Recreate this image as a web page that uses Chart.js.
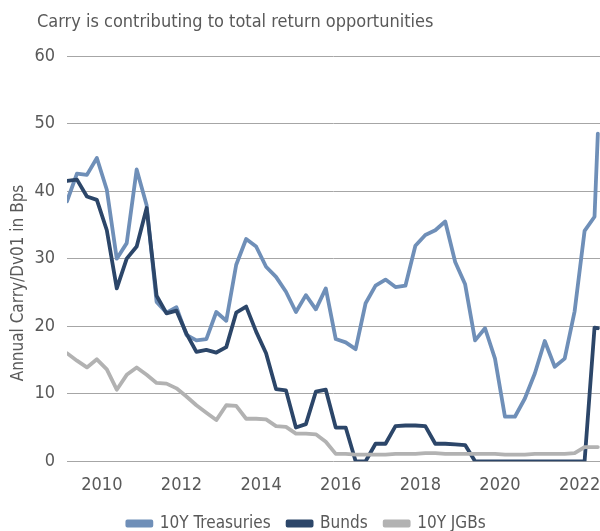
<!DOCTYPE html>
<html lang="en">
<head>
  <meta charset="UTF-8">
  <title>Carry is contributing to total return opportunities</title>
  <script src="https://cdn.jsdelivr.net/npm/chart.js"></script>
  <style>
    body { margin: 0; background: #fff; }
    #wrap { width: 600px; height: 531px; position: relative; }
  </style>
</head>
<body>
<div id="wrap"><canvas id="carryChart"></canvas></div>

<script>
  // observation months (quarter ends, last one is the latest reading)
  const dates = [
    '2009-03','2009-06','2009-09','2009-12',
    '2010-03','2010-06','2010-09','2010-12',
    '2011-03','2011-06','2011-09','2011-12',
    '2012-03','2012-06','2012-09','2012-12',
    '2013-03','2013-06','2013-09','2013-12',
    '2014-03','2014-06','2014-09','2014-12',
    '2015-03','2015-06','2015-09','2015-12',
    '2016-03','2016-06','2016-09','2016-12',
    '2017-03','2017-06','2017-09','2017-12',
    '2018-03','2018-06','2018-09','2018-12',
    '2019-03','2019-06','2019-09','2019-12',
    '2020-03','2020-06','2020-09','2020-12',
    '2021-03','2021-06','2021-09','2021-12',
    '2022-03','2022-06','2022-07'
  ];
  const treasuries = [
    38.5, 42.6, 42.4, 44.9, 40.2, 30.0, 32.3, 43.2, 37.9, 23.6,
    22.0, 22.8, 18.7, 17.9, 18.1, 22.1, 20.8, 29.1, 32.9, 31.8,
    28.8, 27.3, 25.1, 22.1, 24.6, 22.5, 25.6, 18.1, 17.6, 16.6,
    23.4, 26.0, 26.9, 25.8, 26.0, 31.9, 33.5, 34.2, 35.5, 29.5,
    26.2, 17.9, 19.7, 15.2, 6.6, 6.6, 9.3, 13.0, 17.8, 14.0,
    15.2, 22.2, 34.1, 36.2, 48.5
  ];
  const bunds = [
    41.5, 41.7, 39.2, 38.7, 34.2, 25.6, 30.0, 31.8, 37.5, 24.5,
    21.9, 22.3, 18.9, 16.2, 16.5, 16.1, 16.9, 22.0, 22.9, 19.2,
    16.0, 10.7, 10.5, 5.0, 5.5, 10.3, 10.6, 5.0, 5.0, 0.0,
    0.0, 2.6, 2.6, 5.2, 5.3, 5.3, 5.2, 2.6, 2.6, 2.5,
    2.4, 0.0, 0.0, 0.0, 0.0, 0.0, 0.0, 0.0, 0.0, 0.0,
    0.0, 0.0, 0.0, 19.8, 19.7
  ];
  const jgbs = [
    16.0, 14.9, 13.9, 15.1, 13.6, 10.6, 12.8, 13.9, 12.8, 11.6,
    11.5, 10.8, 9.6, 8.3, 7.2, 6.1, 8.3, 8.2, 6.3, 6.3,
    6.2, 5.2, 5.1, 4.1, 4.1, 4.0, 2.9, 1.1, 1.1, 1.0,
    1.0, 1.0, 1.0, 1.1, 1.1, 1.1, 1.2, 1.2, 1.1, 1.1,
    1.1, 1.1, 1.1, 1.1, 1.0, 1.0, 1.0, 1.1, 1.1, 1.1,
    1.1, 1.2, 2.1, 2.1, 2.1
  ];
  const yearLabels = ['2010', '2012', '2014', '2016', '2018', '2020', '2022'];

  const FONT = "'Liberation Sans Narrow', 'DejaVu Sans Condensed', sans-serif";
  const TEXT = '#595959';

  // position in quarters since the first observation
  function pos(d) {
    const [y, m] = d.split('-').map(Number);
    const [y0, m0] = dates[0].split('-').map(Number);
    return ((y - y0) * 12 + (m - m0)) / 3;
  }
  // year labels sit between Q4 and Q1
  const yearTicks = yearLabels.map(y => pos(y + '-03') - 0.5);

  function series(values) {
    return dates.map((d, i) => ({ x: pos(d), y: values[i] }));
  }

  const extraText = {
    id: 'extraText',
    afterDraw(chart) {
      const c = chart.ctx;
      c.save();
      c.fillStyle = TEXT;
      c.font = "18px " + FONT;
      c.textAlign = 'left';
      c.textBaseline = 'alphabetic';
      c.fillText('Carry is contributing to total return opportunities', 37, 27);
      c.translate(19, 283);
      c.rotate(-Math.PI / 2);
      c.font = "17px " + FONT;
      c.textAlign = 'center';
      c.textBaseline = 'middle';
      c.fillText('Annual Carry/Dv01 in Bps', 0, 0);
      c.restore();
    }
  };

  const ctx = document.getElementById('carryChart').getContext('2d');
  const carryChart = new Chart(ctx, {
    type: 'line',
    data: {
      datasets: [{
        label: '10Y Treasuries',
        data: series(treasuries),
        borderColor: '#6f8fb8',
        backgroundColor: '#6f8fb8',
        order: 2
      }, {
        label: 'Bunds',
        data: series(bunds),
        borderColor: '#2c4669',
        backgroundColor: '#2c4669',
        order: 1
      }, {
        label: '10Y JGBs',
        data: series(jgbs),
        borderColor: '#b2b2b2',
        backgroundColor: '#b2b2b2',
        order: 0
      }]
    },
    options: {
      responsive: true,
      maintainAspectRatio: false,
      animation: false,
      layout: { padding: { top: 56, left: 13, right: 0, bottom: 0 } },
      elements: {
        point: { radius: 0 },
        line: { borderWidth: 3.8, tension: 0, borderJoinStyle: 'round', borderCapStyle: 'round' }
      },
      plugins: {
        tooltip: { enabled: false },
        legend: {
          position: 'bottom',
          maxHeight: 33,
          labels: {
            color: TEXT,
            font: { family: FONT, size: 17 },
            boxWidth: 24,
            boxHeight: 4,
            padding: 17,
            sort: (a, b) => a.datasetIndex - b.datasetIndex
          }
        }
      },
      scales: {
        x: {
          type: 'linear',
          min: 0,
          max: 53.55,
          grid: { display: false, drawTicks: false },
          border: { display: false },
          afterBuildTicks: (scale) => {
            scale.ticks = yearTicks.map(v => ({ value: v }));
          },
          afterFit: (scale) => {
            scale.height = 36.7;
            scale.paddingLeft = 0;
            scale.paddingRight = 0;
          },
          ticks: {
            color: TEXT,
            font: { family: FONT, size: 18 },
            maxRotation: 0,
            autoSkip: false,
            padding: 13,
            callback: (value) => yearLabels[yearTicks.indexOf(value)]
          }
        },
        y: {
          min: 0,
          max: 60,
          grid: { color: '#a6a6a6', lineWidth: 1, drawTicks: false },
          border: { display: false },
          afterFit: (scale) => { scale.width = 54; },
          ticks: {
            stepSize: 10,
            color: TEXT,
            font: { family: FONT, size: 18 },
            padding: 12
          }
        }
      }
    },
    plugins: [extraText]
  });
</script>
</body>
</html>
